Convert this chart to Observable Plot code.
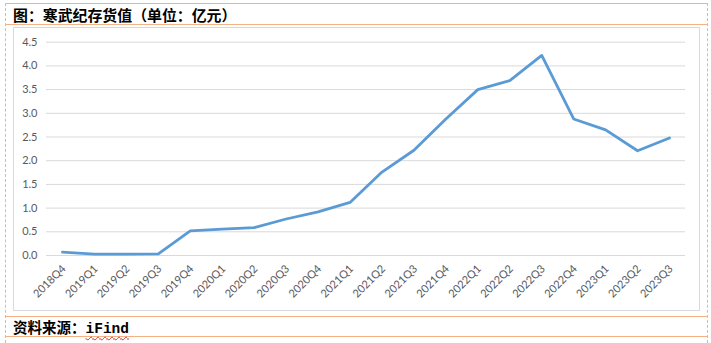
<!DOCTYPE html>
<html>
<head>
<meta charset="utf-8">
<script src="https://cdn.jsdelivr.net/npm/d3@7"></script>
<script src="https://cdn.jsdelivr.net/npm/@observablehq/plot@0.6"></script>
<style>
  html, body { margin: 0; padding: 0; background: #fff; }
  #wrap { position: relative; width: 711px; height: 343px; overflow: hidden; background: #fff; }
  .hline { position: absolute; left: 5px; width: 702px; height: 0; border-top: 1.5px solid #f4b183; }
  .vdash { position: absolute; width: 0; border-left: 1px dashed #c0c0c0; }
  #title { position: absolute; left: 13px; top: 5px; font: bold 14.9px "Noto Sans CJK SC", sans-serif; color: #000; line-height: 19px; white-space: nowrap; }
  #footer { position: absolute; left: 13px; top: 317px; font: bold 14.5px "Noto Sans CJK SC", sans-serif; color: #000; line-height: 19px; white-space: nowrap; }
  #footer .en { font-family: "Liberation Mono", monospace; text-decoration: underline wavy #e03030; text-decoration-thickness: 1px; text-underline-offset: 3px; }
  #box { position: absolute; left: 13px; top: 27px; width: 687px; height: 284px; border: 1px solid #d9d9d9; box-sizing: border-box; }
  #chart { position: absolute; left: 0; top: 0; }
</style>
</head>
<body>
<div id="wrap">
  <div class="hline" style="top:3px"></div>
  <div class="hline" style="top:24px"></div>
  <div class="hline" style="top:315.5px"></div>
  <div class="hline" style="top:335.5px"></div>
  <div class="vdash" style="left:5px; top:3px; height:340px"></div>
  <div class="vdash" style="left:707px; top:3px; height:340px"></div>
  <div id="title">图：寒武纪存货值（单位：亿元）</div>
  <div id="box"></div>
  <div id="chart"></div>
  <div id="footer">资料来源：<span class="en">iFind</span></div>
</div>
<script>
const quarters = ["2018Q4","2019Q1","2019Q2","2019Q3","2019Q4","2020Q1","2020Q2","2020Q3","2020Q4","2021Q1","2021Q2","2021Q3","2021Q4","2022Q1","2022Q2","2022Q3","2022Q4","2023Q1","2023Q2","2023Q3"];
const inventory = [0.07,0.03,0.03,0.035,0.52,0.555,0.59,0.77,0.92,1.12,1.76,2.22,2.88,3.50,3.69,4.22,2.88,2.65,2.21,2.48];
const yTicks = [0,0.5,1,1.5,2,2.5,3,3.5,4,4.5];

const data = quarters.map((q, i) => ({q, v: inventory[i]}));

const chart = Plot.plot({
  width: 711,
  height: 343,
  marginLeft: 46,
  marginRight: 26,
  marginTop: 41.7,
  marginBottom: 88,
  style: {fontFamily: "Lato, 'Open Sans', sans-serif", fontSize: "11px", color: "#595959", background: "transparent"},
  x: {type: "point", domain: quarters, padding: 0.5, round: false, axis: null, label: null},
  y: {domain: [0, 4.5], axis: null, label: null},
  marks: [
    Plot.ruleY(yTicks, {stroke: "#d9d9d9", strokeWidth: 1}),
    Plot.axisY({ticks: yTicks, tickSize: 0, tickPadding: 9, tickFormat: d => d.toFixed(1), fill: "#595959", label: null}),
    Plot.text(quarters, {x: d => d, frameAnchor: "bottom", rotate: -45, textAnchor: "end", dx: 4, dy: 14, fill: "#595959", fontSize: 11}),
    Plot.line(data, {x: "q", y: "v", stroke: "#5b9bd5", strokeWidth: 2.8, strokeLinejoin: "round", strokeLinecap: "round"})
  ]
});
document.getElementById("chart").appendChild(chart);
</script>
</body>
</html>
